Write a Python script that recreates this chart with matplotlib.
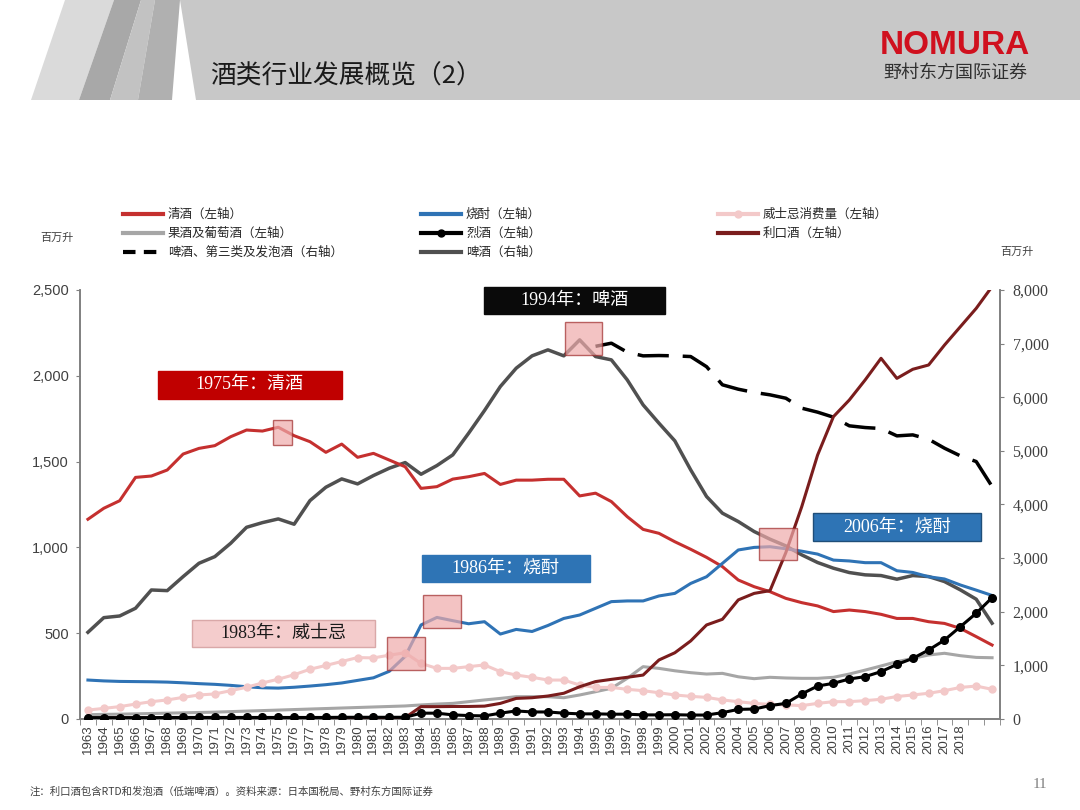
"""
Japan alcohol consumption by category, 1963-2020 (Nomura slide recreation).
"""
import matplotlib
matplotlib.use("Agg")
import matplotlib.pyplot as plt
import matplotlib.patches as mpatches
from matplotlib.lines import Line2D
import numpy as np

plt.rcParams['font.family'] = ['Noto Sans CJK SC', 'DejaVu Sans']

W, H = 1080, 810

years = list(range(1963, 2021))
year_labels = [str(y) if y <= 2018 else "" for y in years]

# left axis, million litres
sake = [1164, 1228, 1272, 1408, 1416, 1451, 1544, 1577, 1593, 1645,
        1684, 1678, 1700, 1651, 1616, 1554, 1602, 1525, 1548, 1509,
        1470, 1344, 1354, 1398, 1412, 1431, 1367, 1392, 1392, 1397,
        1397, 1300, 1316, 1267, 1179, 1105, 1082, 1033, 989, 942,
        888, 810, 771, 742, 703, 678, 659, 626, 635, 626,
        610, 586, 586, 567, 557, 528, 480, 431]
shochu = [227, 222, 219, 218, 217, 215, 211, 206, 202, 196,
          188, 182, 180, 185, 192, 200, 210, 225, 240, 278,
          365, 548, 592, 573, 555, 567, 495, 522, 510, 545,
          586, 606, 645, 684, 688, 688, 717, 732, 790, 829,
          907, 985, 1000, 1004, 992, 978, 961, 926, 921, 911,
          911, 864, 854, 829, 816, 781, 751, 720]
whisky = [52, 62, 72, 87, 101, 111, 126, 140, 146, 165,
          185, 210, 232, 258, 290, 312, 335, 358, 356, 372,
          386, 324, 295, 295, 305, 315, 276, 256, 243, 227,
          227, 198, 184, 184, 173, 165, 153, 140, 132, 126,
          111, 101, 91, 85, 82, 78, 91, 101, 101, 107,
          115, 131, 140, 150, 165, 184, 192, 173]
fruit_wine = [25, 27, 28, 30, 32, 34, 36, 38, 40, 43,
              46, 49, 52, 55, 58, 61, 64, 67, 70, 73,
              76, 82, 87, 91, 101, 111, 120, 130, 130, 130,
              124, 140, 159, 179, 237, 305, 295, 281, 270, 262,
              266, 246, 235, 243, 239, 237, 237, 243, 262, 285,
              309, 334, 353, 373, 383, 369, 359, 357]
spirits = [8, 8, 8, 8, 8, 9, 9, 9, 9, 9,
           9, 9, 9, 9, 9, 9, 10, 10, 10, 10,
           10, 34, 34, 24, 20, 18, 34, 47, 41, 41,
           34, 30, 30, 28, 28, 24, 24, 25, 23, 23,
           37, 56, 58, 78, 91, 146, 192, 208, 233, 247,
           276, 318, 353, 402, 460, 538, 616, 707]
liqueur = [6, 6, 6, 6, 6, 6, 6, 6, 6, 6,
           6, 6, 6, 6, 6, 6, 7, 7, 7, 8,
           8, 72, 72, 73, 73, 75, 91, 120, 124, 134,
           150, 188, 218, 231, 243, 256, 344, 386, 455, 548,
           581, 694, 732, 748, 970, 1237, 1538, 1762, 1859, 1976,
           2102, 1985, 2038, 2063, 2179, 2286, 2393, 2520]

# right axis, million litres
beer = [1617, 1890, 1921, 2065, 2406, 2394, 2655, 2904, 3028, 3277,
        3575, 3662, 3731, 3632, 4073, 4322, 4477, 4384, 4540, 4677,
        4782, 4564, 4726, 4925, 5329, 5752, 6200, 6542, 6772, 6884,
        6772, 7070, 6759, 6697, 6324, 5858, 5516, 5187, 4646, 4149,
        3838, 3682, 3496, 3353, 3228, 3061, 2918, 2812, 2731, 2688,
        2675, 2607, 2675, 2656, 2563, 2408, 2234, 1786]
total_years = list(range(1995, 2021))
beer_total = [6950, 7008, 6840, 6772, 6778, 6772, 6759, 6570, 6232, 6150,
              6090, 6045, 5982, 5796, 5722, 5628, 5467, 5435, 5417, 5280,
              5298, 5217, 5050, 4907, 4801, 4336]

C_SAKE = "#c5302f"
C_SHOCHU = "#2f73b5"
C_WHISKY = "#f3c9c9"
C_FRUIT = "#a6a6a6"
C_SPIRITS = "#000000"
C_LIQUEUR = "#7a1d1d"
C_BEER = "#505050"


def fx(x):
    return x / W


def fy(y):
    return 1 - y / H


def poly(pts, color, z=0):
    fig.add_artist(mpatches.Polygon([(fx(a), fy(b)) for a, b in pts], closed=True,
                                    transform=fig.transFigure, fc=color, ec="none", zorder=z))


fig = plt.figure(figsize=(W / 100, H / 100), dpi=100)

# header band with slanted stripes
poly([(196, 100), (180, 0), (1080, 0), (1080, 100)], "#c8c8c8")
poly([(31, 100), (65, 0), (114, 0), (79, 100)], "#dadada")
poly([(79, 100), (114, 0), (141, 0), (110, 100)], "#a8a8a8")
poly([(110, 100), (141, 0), (155, 0), (138, 100)], "#c2c2c2")
poly([(138, 100), (155, 0), (180, 0), (172, 100)], "#b0b0b0")
fig.text(fx(210), fy(77), "酒类行业发展概览（2）", fontsize=18.5, color="#1a1a1a",
         ha="left", va="center")
fig.text(fx(955), fy(45), "NOMURA", fontsize=24, fontweight="bold", color="#d0101e",
         ha="center", va="center", family=["Liberation Sans"])
fig.text(fx(955), fy(73), "野村东方国际证券", fontsize=13, color="#303030",
         ha="center", va="center")

ax = fig.add_axes([fx(80), fy(719), (1000 - 80) / W, (719 - 290) / H])
ax2 = ax.twinx()
ax.set_zorder(ax2.get_zorder() + 1)
ax.patch.set_visible(False)

x = np.arange(len(years))
xt = np.array([years.index(y) for y in total_years])

ax2.plot(x, beer, color=C_BEER, lw=2.5, zorder=2)
ax2.plot(xt, beer_total, color="black", lw=2.5, dashes=(9, 4), zorder=3)

ax.plot(x, sake, color=C_SAKE, lw=2.2, zorder=3)
ax.plot(x, shochu, color=C_SHOCHU, lw=2.2, zorder=3)
ax.plot(x, fruit_wine, color=C_FRUIT, lw=2.2, zorder=3)
ax.plot(x, whisky, color=C_WHISKY, lw=2.2, marker="o", ms=5, mfc=C_WHISKY,
        mec=C_WHISKY, zorder=4)
ax.plot(x, liqueur, color=C_LIQUEUR, lw=2.2, zorder=5)
ax.plot(x, spirits, color=C_SPIRITS, lw=2.2, marker="o", ms=5.5, zorder=6)

ax.set_xlim(-0.5, len(years) - 0.5)
ax.set_ylim(0, 2500)
ax2.set_ylim(0, 8000)
ax.set_yticks(range(0, 2501, 500))
ax.set_yticklabels([f"{v:,}" for v in range(0, 2501, 500)], family=["Liberation Sans"],
                   fontsize=10.5, color="#404040")
ax2.set_yticks(range(0, 8001, 1000))
ax2.set_yticklabels([f"{v:,}" for v in range(0, 8001, 1000)], family=["Liberation Serif"],
                    fontsize=11.5, color="#404040")
ax.set_xticks(x)
ax.set_xticklabels(year_labels, rotation=90, fontsize=9.5, family=["Liberation Sans"],
                   color="#404040")
ax.set_xticks(np.arange(-0.5, len(years), 1), minor=True)
ax.tick_params(axis="x", which="major", length=0, pad=4)
ax.tick_params(axis="x", which="minor", length=4, color="#808080", direction="out")
ax.tick_params(axis="y", length=3, color="#808080", pad=5)
ax2.tick_params(axis="y", length=3, color="#808080", pad=6)

for a in (ax, ax2):
    a.spines["top"].set_visible(False)
    for s in ("left", "right", "bottom"):
        a.spines[s].set_color("#808080")
        a.spines[s].set_linewidth(1.2)

fig.text(fx(57), fy(238), "百万升", fontsize=8, color="#404040", ha="center", va="center")
fig.text(fx(1017), fy(252), "百万升", fontsize=8, color="#404040", ha="center", va="center")

# highlight squares (x in category index, y in left-axis units)
squares = [(11.66, 1597, 1.19, 145), (18.84, 286, 2.39, 192), (21.1, 530, 2.4, 193),
           (30.1, 2121, 2.3, 193), (42.3, 927, 2.4, 186)]
for x0, y0, w, h in squares:
    ax.add_patch(mpatches.Rectangle((x0, y0), w, h, fc="#eeaaaa", ec="#9e2a2a",
                                    lw=1, alpha=0.7, zorder=7, clip_on=False))

# annotation boxes
notes = [
    ("1975年：清酒", 4.41, 1865, 11.59, 163, "#c00000", "#c00000", "white"),
    ("1994年：啤酒", 24.95, 2360, 11.41, 157, "#0a0a0a", "#0a0a0a", "white"),
    ("2006年：烧酎", 45.68, 1037, 10.65, 163, "#2e74b5", "#1f4e79", "white"),
    ("1986年：烧酎", 21.05, 798, 10.58, 158, "#2e74b5", "#2e74b5", "white"),
    ("1983年：威士忌", 6.55, 420, 11.53, 157, "#f4cccc", "#d9a8a8", "#1a1a1a"),
]
for txt, x0, y0, w, h, fc, ec, tc in notes:
    ax.add_patch(mpatches.Rectangle((x0, y0), w, h, fc=fc, ec=ec, lw=1,
                                    zorder=8, clip_on=False))
    ax.text(x0 + w / 2, y0 + h / 2, txt, ha="center", va="center", fontsize=13,
            color=tc, zorder=9, family=["Liberation Serif", "Noto Sans CJK SC"])

# legend, three columns laid out like the source
legend_items = [
    (123, 214, "清酒（左轴）", dict(color=C_SAKE, lw=3)),
    (123, 233, "果酒及葡萄酒（左轴）", dict(color=C_FRUIT, lw=3)),
    (123, 252, "啤酒、第三类及发泡酒（右轴）", dict(color="black", lw=3, dashes=(3, 2))),
    (421, 214, "烧酎（左轴）", dict(color=C_SHOCHU, lw=3)),
    (421, 233, "烈酒（左轴）", dict(color=C_SPIRITS, lw=3, marker="o", ms=5, markevery=[1])),
    (421, 252, "啤酒（右轴）", dict(color=C_BEER, lw=3)),
    (718, 214, "威士忌消费量（左轴）", dict(color=C_WHISKY, lw=3, marker="o", ms=5,
                                       markevery=[1], mfc=C_WHISKY, mec=C_WHISKY)),
    (718, 233, "利口酒（左轴）", dict(color=C_LIQUEUR, lw=3)),
]
for lx, ly, label, style in legend_items:
    fig.add_artist(Line2D([fx(lx), fx(lx + 20), fx(lx + 40)], [fy(ly)] * 3,
                          transform=fig.transFigure, **style))
    fig.text(fx(lx + 45), fy(ly), label, fontsize=9, color="#262626",
             ha="left", va="center")

fig.text(fx(30), fy(792), "注：利口酒包含RTD和发泡酒（低端啤酒）。资料来源：日本国税局、野村东方国际证券",
         fontsize=7.5, color="#404040", ha="left", va="center", style="italic")
fig.text(fx(1040), fy(784), "11", fontsize=11, color="#808080", ha="center", va="center",
         family=["Liberation Serif"])

fig.savefig("out.png", dpi=100)
